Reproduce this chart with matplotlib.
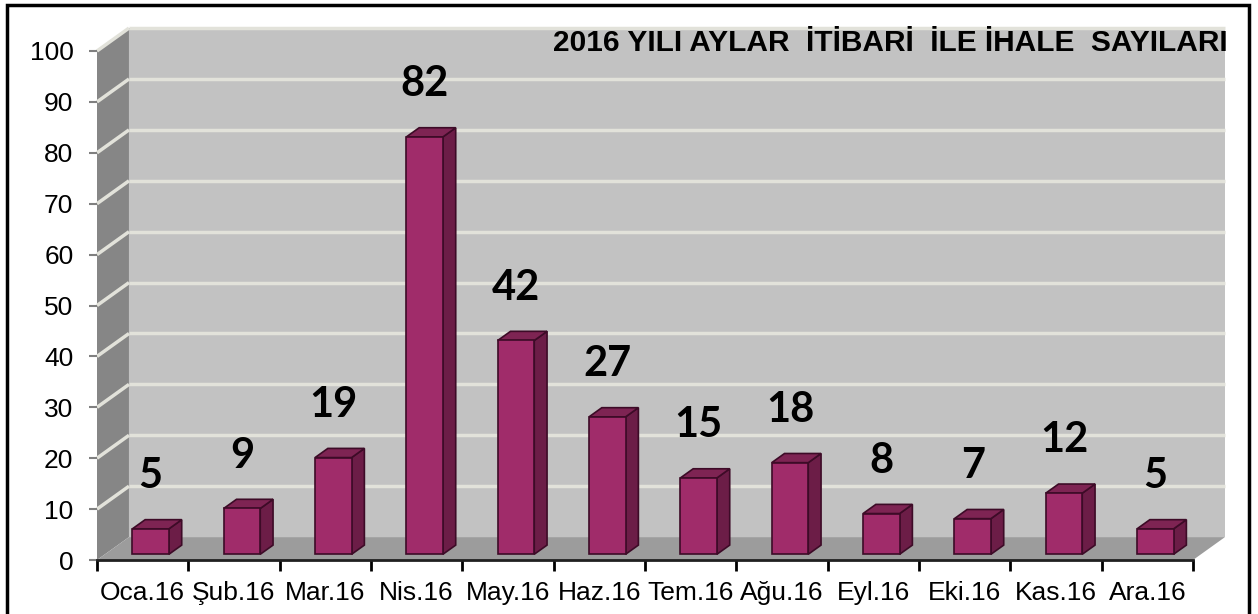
import numpy as np
import matplotlib
matplotlib.use('Agg')
import matplotlib.pyplot as plt
from matplotlib.patches import Polygon, Rectangle

months = ['Oca.16', 'Şub.16', 'Mar.16', 'Nis.16', 'May.16', 'Haz.16',
          'Tem.16', 'Ağu.16', 'Eyl.16', 'Eki.16', 'Kas.16', 'Ara.16']
counts = [5, 9, 19, 82, 42, 27, 15, 18, 8, 7, 12, 5]
yticks = list(range(0, 101, 10))
title = '2016 YILI AYLAR  İTİBARİ  İLE İHALE  SAYILARI'

W, H = 1258, 614
fig = plt.figure(figsize=(W / 100, H / 100), dpi=100)
fig.patch.set_facecolor('white')

# axes box in pixels: x 97..1193, y 51..560
ax = fig.add_axes([97 / W, (H - 560) / H, (1193 - 97) / W, (560 - 51) / H])
n = len(months)
x0, x1 = -0.5, n - 0.5
ax.set_xlim(x0, x1)
ax.set_ylim(0, 100)
ax.patch.set_visible(False)

# fake 3D depth (in data units)
DX, DY = 0.35, 4.5

back_col = '#c2c2c2'
side_col = '#868686'
floor_col = '#9c9c9c'
grid_col = '#e2e2da'

# walls and floor
ax.add_patch(Polygon([(x0 + DX, DY), (x1 + DX, DY), (x1 + DX, 100 + DY), (x0 + DX, 100 + DY)],
                     closed=True, fc=back_col, ec='none', clip_on=False, zorder=0))
ax.add_patch(Polygon([(x0, 0), (x0 + DX, DY), (x0 + DX, 100 + DY), (x0, 100)],
                     closed=True, fc=side_col, ec='none', clip_on=False, zorder=0))
ax.add_patch(Polygon([(x0, 0), (x1, 0), (x1 + DX, DY), (x0 + DX, DY)],
                     closed=True, fc=floor_col, ec='none', clip_on=False, zorder=0.5))

for v in yticks[1:]:
    ax.plot([x0 + DX, x1 + DX], [v + DY, v + DY], color=grid_col, lw=2.5,
            clip_on=False, zorder=0.2, solid_capstyle='butt')
    ax.plot([x0, x0 + DX], [v, v + DY], color=grid_col, lw=2.5,
            clip_on=False, zorder=0.2, solid_capstyle='butt')

# bars
front_col = '#a02c6a'
right_col = '#6c1d47'
top_col = '#7e2453'
edge_col = '#3d0b27'
bw = 0.40      # bar width
f0 = 0.25      # depth fraction where bar front sits
bd = 0.40      # bar depth fraction
for i, v in enumerate(counts):
    ox, oy = f0 * DX, f0 * DY
    ddx, ddy = bd * DX, bd * DY
    xl = i - bw / 2 + ox
    xr = i + bw / 2 + ox
    yb = oy
    yt = v + oy
    front = Polygon([(xl, yb), (xr, yb), (xr, yt), (xl, yt)], closed=True,
                    fc=front_col, ec=edge_col, lw=1.2, zorder=3, clip_on=False)
    side = Polygon([(xr, yb), (xr + ddx, yb + ddy), (xr + ddx, yt + ddy), (xr, yt)], closed=True,
                   fc=right_col, ec=edge_col, lw=1.2, zorder=3, clip_on=False)
    top = Polygon([(xl, yt), (xr, yt), (xr + ddx, yt + ddy), (xl + ddx, yt + ddy)], closed=True,
                  fc=top_col, ec=edge_col, lw=1.2, zorder=3, clip_on=False)
    for p in (side, top, front):
        ax.add_patch(p)
    ax.text(i + ox, v + 11.5, str(v), ha='center', va='center', fontsize=30,
            fontweight='bold', family=['Lato', 'DejaVu Sans'], zorder=4)

# axes styling
for s in ('left', 'right', 'top'):
    ax.spines[s].set_visible(False)
ax.spines['bottom'].set_color('#202020')
ax.spines['bottom'].set_linewidth(2)
ax.spines['bottom'].set_zorder(5)

ax.set_yticks(yticks)
ax.tick_params(axis='y', length=6, width=1.5, color='#808080', pad=11,
               labelsize=19)
ax.set_xticks(np.arange(x0, x1 + 0.01, 1.0))
ax.set_xticklabels([])
ax.set_xticks(np.arange(n), minor=True)
ax.set_xticklabels(months, minor=True)
ax.tick_params(axis='x', which='major', length=8, width=2, color='black')
ax.tick_params(axis='x', which='minor', length=0, pad=15, labelsize=19)
for lab in ax.get_xticklabels(minor=True) + ax.get_yticklabels():
    lab.set_family(['Liberation Sans', 'DejaVu Sans'])

fig.text(890 / W, 1 - 43 / H, title, ha='center', va='center', fontsize=21.5,
         fontweight='bold', family=['Liberation Sans', 'DejaVu Sans'])

# outer frame
fig.patches.append(Rectangle((7 / W, -0.02), (1249 - 7) / W, 1.02 - 5 / H,
                             transform=fig.transFigure, fill=False, ec='black', lw=2.5))

fig.savefig('out.png', dpi=100)
